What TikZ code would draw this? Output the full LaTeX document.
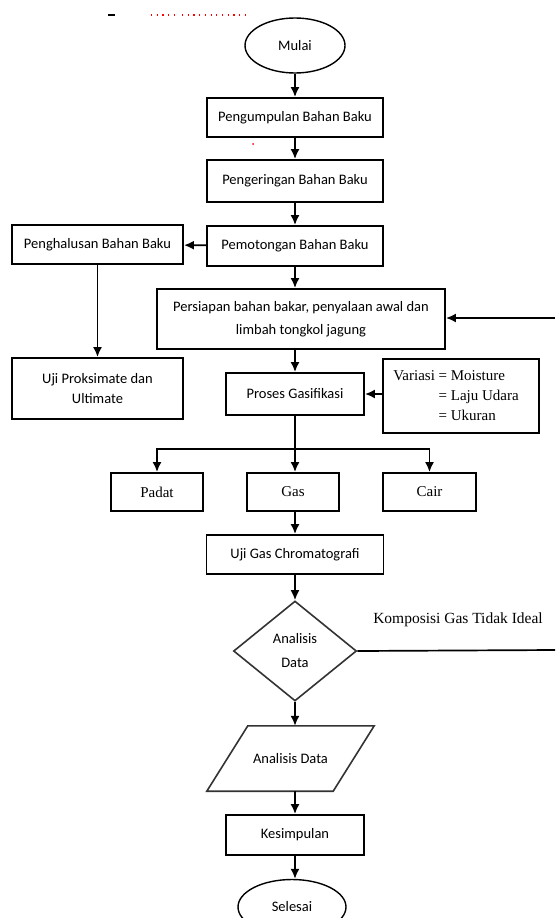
\documentclass[tikz,border=0pt]{standalone}
\usepackage{fontspec}
\setmainfont{Liberation Serif}
\newfontfamily\calibri{Carlito}
\usetikzlibrary{arrows.meta,shapes.geometric}
\tikzset{
  fc/box/.style={
    draw=black,
    line width=1.9pt,
    fill=white,
    align=center,
    inner sep=0pt,
    font=\calibri\fontsize{14.5}{17}\selectfont
  },
  fc/serifbox/.style={
    fc/box,
    font=\fontsize{15}{20}\selectfont
  },
  fc/term/.style={
    ellipse,
    draw=black,
    line width=1.4pt,
    fill=white,
    inner sep=0pt,
    font=\calibri\fontsize{14.5}{17}\selectfont
  },
  fc/decision/.style={
    diamond,
    draw=black!80,
    line width=1.6pt,
    fill=white,
    align=center,
    inner sep=0pt,
    font=\calibri\fontsize{14.5}{24}\selectfont
  },
  fc/databody/.style={
    inner sep=0pt,
    font=\calibri\fontsize{14.5}{17}\selectfont
  },
  fc/dataline/.style={draw=black!80, line width=1.6pt, line join=miter},
  fc/line/.style={line width=1.7pt, draw=black},
  fc/arrow/.style={-{Latex[length=10pt,width=9pt]}, line width=1.7pt, draw=black},
  fc/label/.style={font=\fontsize{15.5}{18}\selectfont, inner sep=0pt}
}

\begin{document}
\begin{tikzpicture}[x=1pt,y=-1pt]
  \useasboundingbox (0,0) rectangle (555,918);
  \draw[black, line width=1.5pt] (108,15) -- (115,15);
  \draw[red, line width=1.2pt, dash pattern=on 1.2pt off 4.5pt] (151,15) -- (175,15);
  \draw[red, line width=1.2pt, dash pattern=on 1.2pt off 4.5pt] (182,15) -- (249,15);
  \fill[red] (253,144) circle (1pt);

  \node[fc/term, minimum width=100, minimum height=55] (mulai) at (295,45.5) {Mulai};
  \node[fc/box, minimum width=176, minimum height=39] (kumpul) at (295,117.5) {Pengumpulan Bahan Baku};
  \node[fc/box, minimum width=176, minimum height=42] (kering) at (295,181) {Pengeringan Bahan Baku};
  \node[fc/box, minimum width=176, minimum height=40] (potong) at (295,246) {Pemotongan Bahan Baku};
  \node[fc/box, minimum width=171, minimum height=39] (halus) at (97.5,244.5) {Penghalusan Bahan Baku};
  \node[fc/box, minimum width=171, minimum height=61] (proksimate) at (97.5,388.5) {Uji Proksimate dan\\[3pt] Ultimate};
  \node[fc/box, minimum width=288, minimum height=60] (persiapan) at (301,319) {Persiapan bahan bakar, penyalaan awal dan\\[6pt] limbah tongkol jagung};
  \node[fc/box, minimum width=138, minimum height=42] (proses) at (295,394) {Proses Gasifikasi};
  \node[fc/serifbox, minimum width=156, minimum height=74] (variasi) at (461,396)
    {\begin{tabular}{@{}l@{~}l@{\hspace{10pt}}}Variasi & = Moisture\\ & = Laju Udara\\ & = Ukuran\end{tabular}};
  \coordinate (split) at (295,449);
  \node[fc/serifbox, minimum width=92, minimum height=38] (padat) at (157,492) {Padat};
  \node[fc/serifbox, minimum width=92, minimum height=38] (gas) at (293,492) {Gas};
  \node[fc/serifbox, minimum width=93, minimum height=38] (cair) at (429.5,492) {Cair};
  \node[fc/box, minimum width=177, minimum height=39] (ujigas) at (295,554.5) {Uji Gas Chromatografi};
  \node[fc/decision, minimum width=123, minimum height=100] (cek) at (295,651) {Analisis\\ Data};
  \node[fc/label] (tidakideal) at (458,620) {Komposisi Gas Tidak Ideal};
  \coordinate (balikbawah) at (555,650);
  \coordinate (balikatas) at (555,318);
  \node[fc/databody, minimum width=126, minimum height=65] (analisis) at (290.5,758.5) {Analisis Data};
  \draw[fc/dataline] ([xshift=-20.5pt]analisis.south west) -- ([xshift=20.5pt]analisis.north west)
    -- ([xshift=20.5pt]analisis.north east) -- ([xshift=-20.5pt]analisis.south east) -- cycle;
  \node[fc/box, minimum width=138, minimum height=40] (simpulan) at (295,835) {Kesimpulan};
  \node[fc/term, minimum width=108, minimum height=55] (selesai) at (292,907) {Selesai};

  \draw[fc/arrow] (mulai) -- (kumpul);
  \draw[fc/arrow] (kumpul) -- (kering);
  \draw[fc/arrow] (kering) -- (potong);
  \draw[fc/arrow] (potong) -- (halus);
  \draw[fc/arrow] (halus) -- (proksimate);
  \draw[fc/arrow] (potong.south) -- (potong.south |- persiapan.north);
  \draw[fc/arrow] (proses.north |- persiapan.south) -- (proses.north);
  \draw[fc/arrow] (variasi.west |- proses) -- (proses.east);
  \draw[fc/line] (proses.south) -- (split);
  \draw[fc/arrow] (split) -| (padat.north);
  \draw[fc/arrow] (split) -| (cair.north);
  \draw[fc/arrow] (split) -- (split |- gas.north);
  \draw[fc/arrow] (split |- gas.south) -- (ujigas.north);
  \draw[fc/arrow] (ujigas) -- (cek);
  \draw[fc/line] (cek.east) -- (balikbawah);
  \draw[fc/arrow] (balikatas) -- (persiapan.east |- balikatas);
  \draw[fc/arrow] (cek.south) -- (cek.south |- analisis.north);
  \draw[fc/arrow] (simpulan.north |- analisis.south) -- (simpulan.north);
  \draw[fc/arrow] (simpulan.south) -- (simpulan.south |- selesai.north);
\end{tikzpicture}
\end{document}
